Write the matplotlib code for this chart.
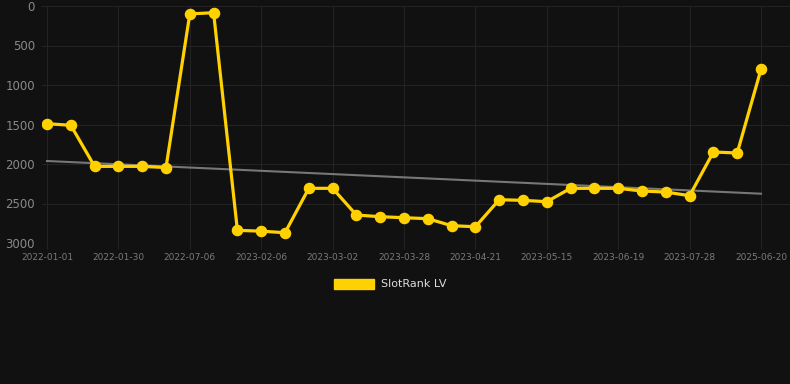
#!/usr/bin/env python3
"""SlotRank LV rank history with linear trend, dark theme."""
import numpy as np
import matplotlib
matplotlib.use("Agg")
import matplotlib.pyplot as plt
from matplotlib.patches import Patch

BG = "#111111"
GRID = "#232323"
YELLOW = "#FFD100"
TREND = "#777777"

# x labels shown on the axis (every 3rd point)
tick_labels = ["2022-01-01", "2022-01-30", "2022-07-06", "2023-02-06", "2023-03-02",
               "2023-03-28", "2023-04-21", "2023-05-15", "2023-06-19", "2023-07-28",
               "2025-06-20"]
# rank per observation (31 points, equally spaced)
rank = [1490, 1510, 2030, 2030, 2030, 2045, 100, 85, 2840, 2850, 2870,
        2308, 2308, 2646, 2667, 2680, 2692, 2781, 2794, 2452, 2460, 2477,
        2308, 2308, 2308, 2342, 2355, 2401, 1848, 1861, 801]
# trend line end values (first and last point)
trend = [1962, 2376]
series_name = "SlotRank LV"

x = np.arange(len(rank))
y = np.array(rank, dtype=float)

fig = plt.figure(figsize=(7.9, 3.84), dpi=100, facecolor=BG)
W, H = 790, 384
ax = fig.add_axes([42 / W, (H - 243) / H, 748 / W, 237 / H], facecolor=BG)

ax.plot(x[[0, -1]], trend, color=TREND, lw=1.5, zorder=2)
ax.plot(x, y, color=YELLOW, lw=2.3, marker="o", ms=7.3, zorder=3)

ax.set_xlim(-5 / 23.8, 30 + 29 / 23.8)
ax.set_ylim(3000, 0)
ax.set_yticks([0, 500, 1000, 1500, 2000, 2500, 3000])
ax.set_xticks(x[::3])
ax.set_xticklabels(tick_labels)

ax.grid(True, color=GRID, lw=0.8)
for s in ax.spines.values():
    s.set_visible(False)
ax.tick_params(axis="y", length=0, pad=5, labelsize=8.5, labelcolor="#8a8a8a")
ax.tick_params(axis="x", length=4, color=GRID, pad=3, labelsize=6.5, labelcolor="#7a7a7a")

fig.legend(handles=[Patch(facecolor=YELLOW, edgecolor=YELLOW, label=series_name)],
           loc="center", bbox_to_anchor=(390 / W, 1 - 284 / H), frameon=False,
           fontsize=8, labelcolor="#dddddd", handlelength=3.6, handleheight=1.0,
           handletextpad=0.6)

fig.savefig("out.png", dpi=100, facecolor=BG)
